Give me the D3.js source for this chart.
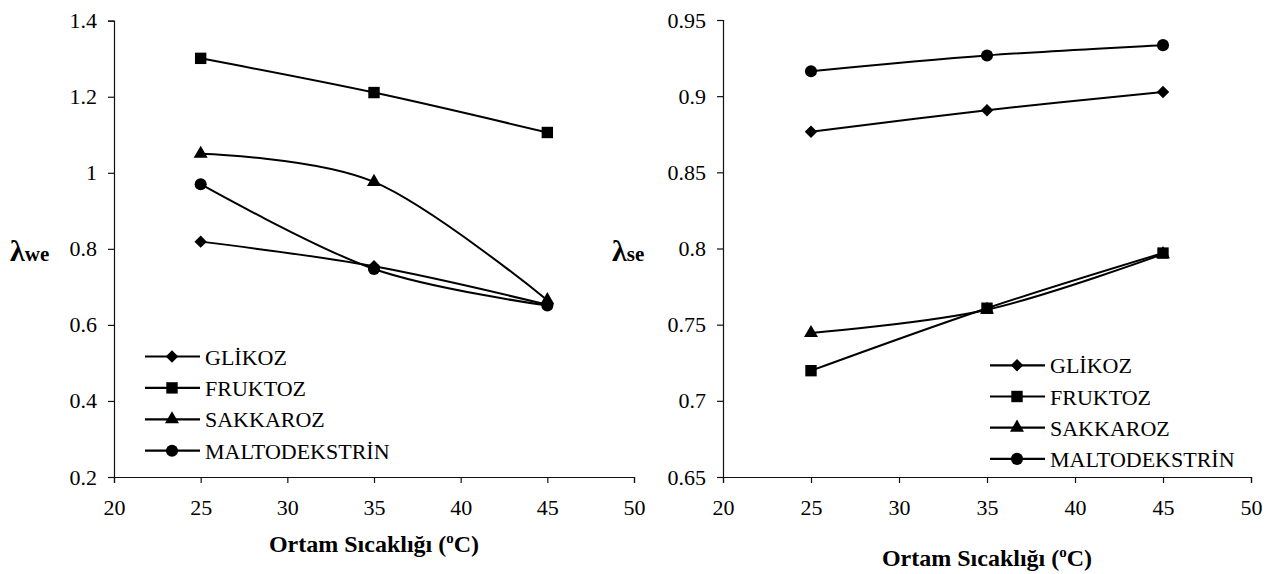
<!DOCTYPE html>
<html>
<head>
<meta charset="utf-8">
<script src="https://cdn.jsdelivr.net/npm/d3@7"></script>
<style>
  html, body { margin: 0; padding: 0; background: #fff; }
  svg { display: block; }
  svg text { font-family: "Liberation Serif", "Times New Roman", serif !important; fill: #000; }
</style>
</head>
<body>
<svg id="chart" width="1279" height="574"></svg>
<script>
// ---- data ----
const temps = [25, 35, 45];
const seriesNames = ["GLİKOZ", "FRUKTOZ", "SAKKAROZ", "MALTODEKSTRİN"];
const markerTypes = ["diamond", "square", "triangle", "circle"];

// left chart: λwe
const weGlikoz   = [0.819, 0.754, 0.653];
const weFruktoz  = [1.301, 1.211, 1.106];
const weSakkaroz = [1.050, 0.976, 0.665];
const weMalto    = [0.970, 0.747, 0.651];

// right chart: λse
const seGlikoz   = [0.8766, 0.8908, 0.9028];
const seFruktoz  = [0.7198, 0.7608, 0.7970];
const seSakkaroz = [0.7445, 0.7598, 0.7963];
const seMalto    = [0.9164, 0.9267, 0.9335];

const xTicks = [20, 25, 30, 35, 40, 45, 50];
const weTicks = [0.2, 0.4, 0.6, 0.8, 1.0, 1.2, 1.4];
const seTicks = [0.65, 0.7, 0.75, 0.8, 0.85, 0.9, 0.95];
const xTitle = "Ortam Sıcaklığı (";
const xTitleSup = "o";
const xTitleEnd = "C)";

const svg = d3.select("#chart");

function marker(g, type, cx, cy) {
  let sym, size, rot = 0;
  if (type === "diamond") { sym = d3.symbolSquare; size = 78; rot = 45; }
  else if (type === "square") { sym = d3.symbolSquare; size = 130; }
  else if (type === "triangle") { sym = d3.symbolTriangle; size = 85; }
  else { sym = d3.symbolCircle; size = 115; }
  g.append("path")
    .attr("d", d3.symbol().type(sym).size(size)())
    .attr("transform", `translate(${cx},${cy}) rotate(${rot})`)
    .attr("fill", "#000");
}

function drawPanel(opts) {
  const x = d3.scaleLinear().domain([20, 50]).range(opts.xr);
  const y = d3.scaleLinear().domain(opts.yd).range(opts.yr);
  const g = svg.append("g");

  const xAxis = d3.axisBottom(x).tickValues(xTicks).tickSize(6).tickSizeOuter(6).tickPadding(16)
    .tickFormat(d3.format("d"));
  const gx = g.append("g").attr("transform", `translate(0,${opts.yr[0]})`).call(xAxis);
  const yAxis = d3.axisLeft(y).tickValues(opts.yTicks).tickSize(6).tickSizeOuter(6).tickPadding(11)
    .tickFormat(opts.fmt);
  const gy = g.append("g").attr("transform", `translate(${opts.xr[0]},0)`).call(yAxis);
  [gx, gy].forEach(a => {
    a.attr("font-family", "Liberation Serif").attr("font-size", 22);
    a.selectAll("path, line").attr("stroke", "#111").attr("stroke-width", 1.2);
    a.selectAll("text").style("font-size", "22px").attr("fill", "#000");
  });

  const line = d3.line().x((d, i) => x(temps[i])).y(d => y(d)).curve(d3.curveCatmullRom.alpha(0));
  opts.series.forEach((vals, si) => {
    g.append("path").datum(vals).attr("d", line)
      .attr("fill", "none").attr("stroke", "#000").attr("stroke-width", 2);
    vals.forEach((v, i) => marker(g, markerTypes[si], x(temps[i]), y(v)));
  });

  // legend
  const lg = g.append("g");
  seriesNames.forEach((name, i) => {
    const yy = opts.leg.y + i * opts.leg.dy;
    lg.append("line").attr("x1", opts.leg.x).attr("x2", opts.leg.x + 55)
      .attr("y1", yy).attr("y2", yy).attr("stroke", "#000").attr("stroke-width", 2.2);
    marker(lg, markerTypes[i], opts.leg.x + 27, yy);
    lg.append("text").attr("x", opts.leg.x + 60).attr("y", yy + 8)
      .style("font-size", "22px").text(name);
  });

  // x title
  const t = g.append("text").attr("x", (opts.xr[0] + opts.xr[1]) / 2).attr("y", opts.titleY)
    .attr("text-anchor", "middle").style("font-size", "24px").style("font-weight", "bold");
  t.append("tspan").text(xTitle);
  t.append("tspan").attr("dy", -9).style("font-size", "15px").text(xTitleSup);
  t.append("tspan").attr("dy", 9).text(xTitleEnd);

  // y title
  const yt = g.append("text").attr("x", opts.ytX).attr("y", 261).style("font-weight", "bold");
  yt.append("tspan").style("font-size", "30px").text("λ");
  yt.append("tspan").style("font-size", "21px").text(opts.ytSub);
}

drawPanel({
  xr: [114, 634], yr: [477, 20.7], yd: [0.2, 1.4], yTicks: weTicks,
  fmt: d => d3.format("")(+d.toFixed(1)),
  series: [weGlikoz, weFruktoz, weSakkaroz, weMalto],
  leg: { x: 145, y: 356.5, dy: 31.4 },
  titleY: 552, ytX: 10, ytSub: "we"
});

drawPanel({
  xr: [723, 1251], yr: [477, 20], yd: [0.65, 0.95], yTicks: seTicks,
  fmt: d => d3.format("")(+d.toFixed(2)),
  series: [seGlikoz, seFruktoz, seSakkaroz, seMalto],
  leg: { x: 990, y: 365.3, dy: 31.2 },
  titleY: 566, ytX: 612, ytSub: "se"
});
</script>
</body>
</html>
